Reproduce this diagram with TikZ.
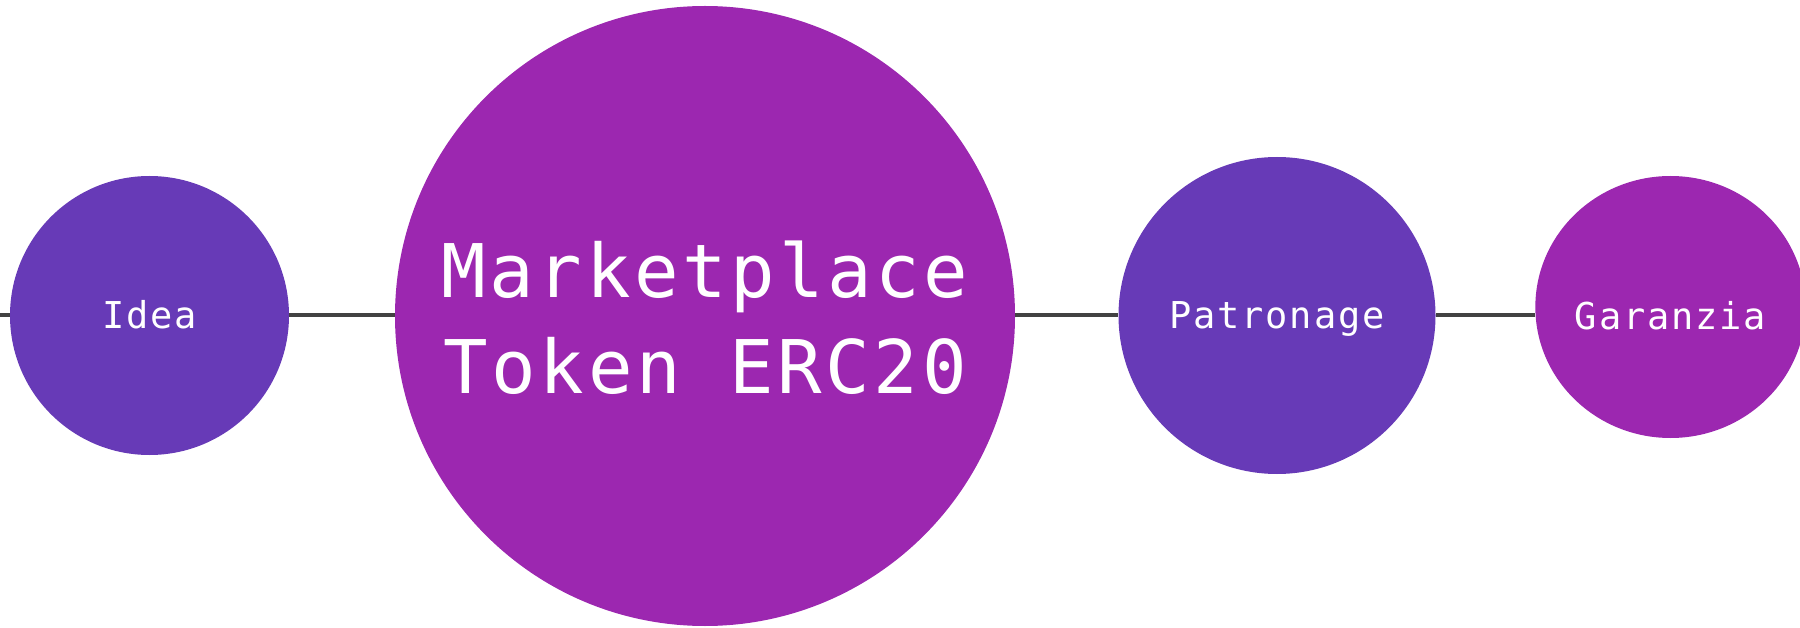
\documentclass[tikz,border=0pt]{standalone}
\usepackage{fontspec}
\newfontfamily\bubblefont{DejaVu Sans Mono}[LetterSpace=5]
\usetikzlibrary{shapes.geometric}
\definecolor{deeppurple}{HTML}{673AB7}
\definecolor{brightpurple}{HTML}{9C27B0}
\definecolor{linegray}{HTML}{424242}
\tikzset{
  bubble/.style={circle, inner sep=0pt, text=white, align=center},
  smalltxt/.style={font=\bubblefont\fontsize{37}{45}\selectfont, text height=27pt, text depth=0pt},
  bigtxt/.style={font=\bubblefont\fontsize{74}{96}\selectfont, text height=154pt, text depth=0pt},
  connector/.style={draw=linegray, line width=3.3pt}
}
\begin{document}
\begin{tikzpicture}[x=1pt,y=-1pt]
\useasboundingbox (0,0) rectangle (1800,628);
\coordinate (L) at (0,315);
\coordinate (R) at (1800,315);
\node[bubble, smalltxt, fill=deeppurple, minimum size=279pt] (idea) at (149.5,315.5) {Idea};
\node[bubble, bigtxt, fill=brightpurple, minimum size=620pt] (market) at (705,316) {Marketplace\\Token ERC20};
\node[bubble, smalltxt, fill=deeppurple, minimum size=317pt] (patr) at (1277,315.5) {Patronage};
\node[ellipse, inner sep=0pt, text=white, smalltxt, text height=45pt, fill=brightpurple, minimum width=256pt, minimum height=262pt] (garan) at (1670.5,307) {Garanzia};
\draw[connector] (L) -- (L -| idea.west);
\draw[connector] (idea.east |- L) -- (market.west |- L);
\draw[connector] (market.east |- L) -- (patr.west |- L);
\draw[connector] (patr.east |- L) -- (garan.west |- L);
\draw[connector] (garan.east |- L) -- (R);
\end{tikzpicture}
\end{document}
